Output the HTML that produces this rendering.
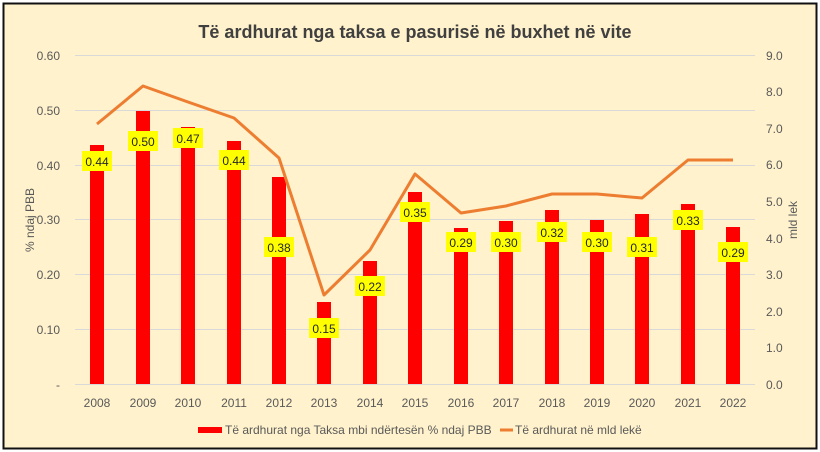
<!DOCTYPE html>
<html><head><meta charset="utf-8"><style>
body{margin:0;background:#fff}
svg{display:block;font-family:"Liberation Sans",sans-serif}
</style></head><body>
<svg width="820" height="452" viewBox="0 0 820 452" xmlns="http://www.w3.org/2000/svg">
<rect x="0" y="0" width="820" height="452" fill="#fff"/>
<rect x="3.5" y="3.5" width="813" height="445" fill="#FFF2CC" stroke="#111" stroke-width="2"/>
<text x="415" y="38" text-anchor="middle" font-size="18" font-weight="bold" fill="#404040">Të ardhurat nga taksa e pasurisë në buxhet në vite</text>
<g stroke="#D9D9D9" stroke-width="1">
<line x1="75" x2="755" y1="55.5" y2="55.5"/><line x1="75" x2="755" y1="110.5" y2="110.5"/>
<line x1="75" x2="755" y1="165.5" y2="165.5"/><line x1="75" x2="755" y1="219.5" y2="219.5"/>
<line x1="75" x2="755" y1="274.5" y2="274.5"/><line x1="75" x2="755" y1="329.5" y2="329.5"/>
<line x1="75" x2="755" y1="384.5" y2="384.5"/>
</g>
<g font-size="12" fill="#595959" text-anchor="end">
<text x="60" y="60">0.60</text><text x="60" y="115">0.50</text><text x="60" y="170">0.40</text>
<text x="60" y="224">0.30</text><text x="60" y="279">0.20</text><text x="60" y="334">0.10</text>
<text x="60" y="389">-</text>
</g>
<g font-size="12" fill="#595959" text-anchor="start">
<text x="766" y="60">9.0</text><text x="766" y="96">8.0</text><text x="766" y="133">7.0</text>
<text x="766" y="169">6.0</text><text x="766" y="206">5.0</text><text x="766" y="243">4.0</text>
<text x="766" y="279">3.0</text><text x="766" y="316">2.0</text><text x="766" y="352">1.0</text>
<text x="766" y="389">0.0</text>
</g>
<text transform="translate(34,220) rotate(-90)" text-anchor="middle" font-size="12" fill="#595959">% ndaj PBB</text>
<text transform="translate(797,220) rotate(-90)" text-anchor="middle" font-size="12" fill="#595959">mld lek</text>
<g fill="#FF0000">
<rect x="90" y="145" width="14" height="239"/>
<rect x="136" y="111" width="14" height="273"/>
<rect x="181" y="127" width="14" height="257"/>
<rect x="227" y="141" width="14" height="243"/>
<rect x="272" y="177" width="14" height="207"/>
<rect x="317" y="302" width="14" height="82"/>
<rect x="363" y="261" width="14" height="123"/>
<rect x="408" y="192" width="14" height="192"/>
<rect x="454" y="228" width="14" height="156"/>
<rect x="499" y="221" width="14" height="163"/>
<rect x="545" y="210" width="14" height="174"/>
<rect x="590" y="220" width="14" height="164"/>
<rect x="635" y="214" width="14" height="170"/>
<rect x="681" y="204" width="14" height="180"/>
<rect x="726" y="227" width="14" height="157"/>
</g>
<polyline fill="none" stroke="#ED7D31" stroke-width="3" stroke-linejoin="round" points="97,124 143,86 188,102 234,118 279,158 324,295 370,250 415,174 461,213 506,206 552,194 597,194 642,198 688,160 733,160"/>
<g font-size="12" fill="#262626" text-anchor="middle">
<g fill="#FFFF00">
<rect x="82" y="151" width="30" height="20"/><rect x="128" y="131" width="30" height="20"/>
<rect x="173" y="128" width="30" height="20"/><rect x="219" y="150" width="30" height="20"/>
<rect x="264" y="237" width="30" height="20"/><rect x="309" y="318" width="30" height="20"/>
<rect x="355" y="276" width="30" height="20"/><rect x="400" y="202" width="30" height="20"/>
<rect x="446" y="232" width="30" height="20"/><rect x="491" y="232" width="30" height="20"/>
<rect x="537" y="222" width="30" height="20"/><rect x="582" y="232" width="30" height="20"/>
<rect x="627" y="237" width="30" height="20"/><rect x="673" y="210" width="30" height="20"/>
<rect x="718" y="242" width="30" height="20"/>
</g>
<text x="97" y="166">0.44</text><text x="143" y="146">0.50</text><text x="188" y="143">0.47</text>
<text x="234" y="165">0.44</text><text x="279" y="252">0.38</text><text x="324" y="333">0.15</text>
<text x="370" y="291">0.22</text><text x="415" y="217">0.35</text><text x="461" y="247">0.29</text>
<text x="506" y="247">0.30</text><text x="552" y="237">0.32</text><text x="597" y="247">0.30</text>
<text x="642" y="252">0.31</text><text x="688" y="225">0.33</text><text x="733" y="257">0.29</text>
</g>
<g font-size="12" fill="#595959" text-anchor="middle">
<text x="97" y="407">2008</text><text x="143" y="407">2009</text><text x="188" y="407">2010</text>
<text x="234" y="407">2011</text><text x="279" y="407">2012</text><text x="324" y="407">2013</text>
<text x="370" y="407">2014</text><text x="415" y="407">2015</text><text x="461" y="407">2016</text>
<text x="506" y="407">2017</text><text x="552" y="407">2018</text><text x="597" y="407">2019</text>
<text x="642" y="407">2020</text><text x="688" y="407">2021</text><text x="733" y="407">2022</text>
</g>
<rect x="198" y="427" width="24" height="6" fill="#FF0000"/>
<text x="225" y="434" font-size="12" fill="#595959">Të ardhurat nga Taksa mbi ndërtesën % ndaj PBB</text>
<line x1="500" x2="513" y1="430" y2="430" stroke="#ED7D31" stroke-width="3"/>
<text x="515" y="434" font-size="12" fill="#595959">Të ardhurat në mld lekë</text>
</svg>
</body></html>
